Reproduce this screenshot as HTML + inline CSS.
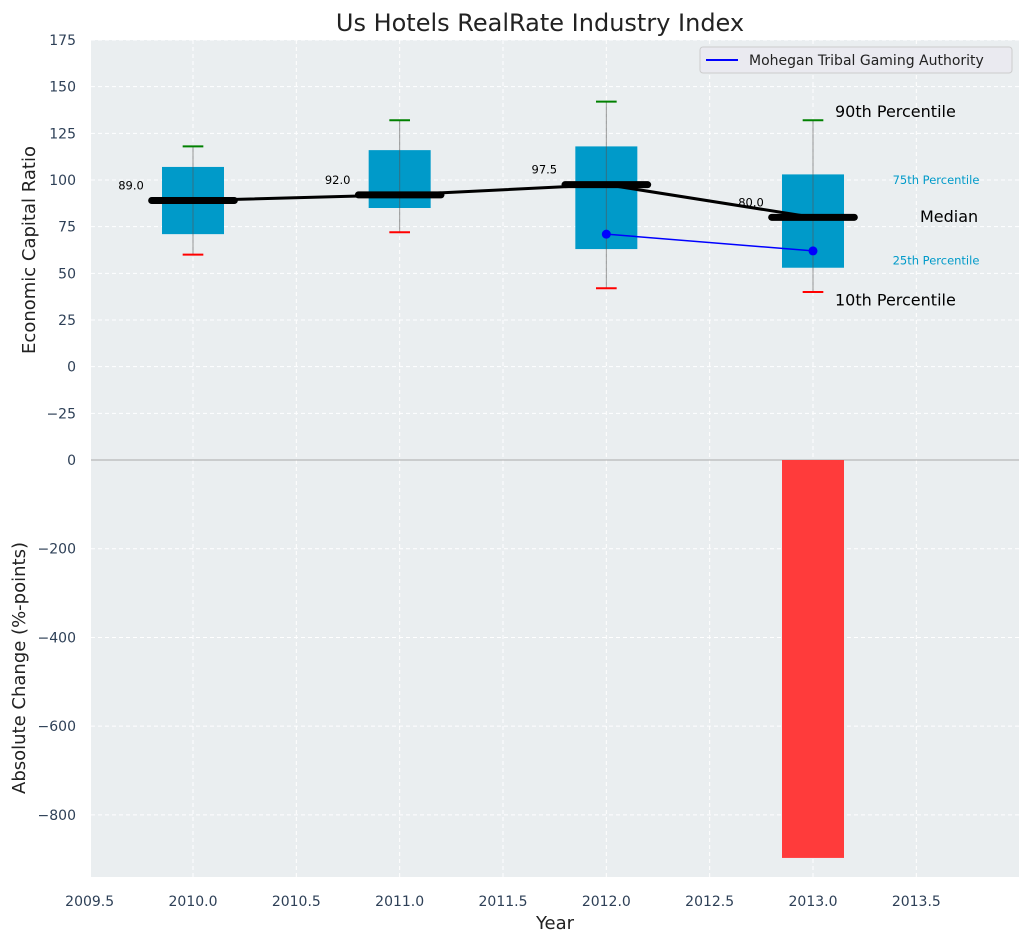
<!DOCTYPE html>
<html><head><meta charset="utf-8"><style>
body{margin:0;background:#fff;font-family:"Liberation Sans","DejaVu Sans",sans-serif}
svg text{font-family:"DejaVu Sans","Liberation Sans",sans-serif}
</style></head><body>
<svg id="c" width="1029" height="942" xmlns="http://www.w3.org/2000/svg"></svg>
<script>
const years=[2010,2011,2012,2013];
const q10=[60,72,42,40];
const q25=[71,85,63,53];
const medians=[89,92,97.5,80];
const q75=[107,116,118,103];
const q90=[118,132,142,132];
const companyYears=[2012,2013];
const companyValues=[71,62];
const changeYears=[2013];
const changeValues=[-897];
const topTicks=[-25,0,25,50,75,100,125,150,175];
const botTicks=[-800,-600,-400,-200,0];
const xTicks=[2009.5,2010,2010.5,2011,2011.5,2012,2012.5,2013,2013.5];

const NS="http://www.w3.org/2000/svg";
const svg=document.getElementById('c');
const L=91,R=1019,T1=40,B1=460,T2=460,B2=877;
const x=v=>193+(v-2010)*(620/3);
const y1=v=>T1+(175-v)/(175+50)*(B1-T1);
const y2=v=>T2+(0-v)/(940)*(B2-T2);
function el(tag,a,name,txt){const e=document.createElementNS(NS,tag);for(const k in a)e.setAttribute(k,a[k]);


if(txt!==undefined)e.textContent=txt;svg.appendChild(e);return e;}
el('rect',{x:L,y:T1,width:R-L,height:B1-T1,fill:'#eaeef0'},'top-plot-area');
el('rect',{x:L,y:T2,width:R-L,height:B2-T2,fill:'#eaeef0'},'bottom-plot-area');
const tc='#2e4057';
topTicks.forEach(t=>{const yy=y1(t);
el('line',{x1:L,x2:R,y1:yy,y2:yy,stroke:'#fff','stroke-dasharray':'4,3','stroke-width':1},'y-grid-top');
el('text',{x:76,y:yy+5,'text-anchor':'end','font-size':14,fill:tc},'y-tick-top',t<0?'\u2212'+(-t):t);});
botTicks.forEach(t=>{const yy=y2(t);
el('line',{x1:L,x2:R,y1:yy,y2:yy,stroke:'#fff','stroke-dasharray':'4,3','stroke-width':1},'y-grid-bottom');
el('text',{x:76,y:yy+5,'text-anchor':'end','font-size':14,fill:tc},'y-tick-bottom',t<0?'\u2212'+(-t):t);});
xTicks.forEach(t=>{const xx=x(t);
el('line',{x1:xx,x2:xx,y1:T1,y2:B2,stroke:'#fff','stroke-dasharray':'4,3','stroke-width':1},'x-grid');
el('text',{x:xx,y:906,'text-anchor':'middle','font-size':14,fill:tc},'x-tick',t.toFixed(1));});
el('line',{x1:L,x2:R,y1:B1,y2:B1,stroke:'#aaa','stroke-width':1},'axes-divider');
changeYears.forEach((yr,i)=>{const v=changeValues[i];
el('rect',{x:x(yr-0.15),y:y2(0),width:x(yr+0.15)-x(yr-0.15),height:y2(v)-y2(0),fill:'#ff3b3b'},'change-bar-'+yr);});
years.forEach((yr,i)=>{const cx=x(yr);
el('rect',{x:x(yr-0.15),y:y1(q75[i]),width:x(yr+0.15)-x(yr-0.15),height:y1(q25[i])-y1(q75[i]),fill:'#009ac9'},'box-'+yr);
el('line',{x1:cx,x2:cx,y1:y1(q90[i]),y2:y1(q10[i]),stroke:'#555','stroke-opacity':0.6,'stroke-width':1},'whisker-'+yr);
el('line',{x1:x(yr-0.05),x2:x(yr+0.05),y1:y1(q90[i]),y2:y1(q90[i]),stroke:'green','stroke-width':2},'cap-90-'+yr);
el('line',{x1:x(yr-0.05),x2:x(yr+0.05),y1:y1(q10[i]),y2:y1(q10[i]),stroke:'red','stroke-width':2},'cap-10-'+yr);
});
el('polyline',{points:years.map((yr,i)=>x(yr)+','+y1(medians[i])).join(' '),fill:'none',stroke:'#000','stroke-width':3},'median-line');
years.forEach((yr,i)=>{
el('line',{x1:x(yr-0.2),x2:x(yr+0.2),y1:y1(medians[i]),y2:y1(medians[i]),stroke:'#000','stroke-width':7,'stroke-linecap':'round'},'median-marker-'+yr);
el('text',{x:x(yr-0.3),y:y1(medians[i]+8)+4,'text-anchor':'middle','font-size':11.5,fill:'#000'},'median-label-'+yr,medians[i].toFixed(1));
});
el('polyline',{points:companyYears.map((yr,i)=>x(yr)+','+y1(companyValues[i])).join(' '),fill:'none',stroke:'blue','stroke-width':1.5},'company-line');
companyYears.forEach((yr,i)=>el('circle',{cx:x(yr),cy:y1(companyValues[i]),r:4.5,fill:'blue'},'company-point-'+yr));
const li=3;
el('text',{x:835,y:y1(q90[li]+5)+6,'font-size':16,fill:'#000'},'label-90th','90th Percentile');
el('text',{x:835,y:y1(q10[li]-4)+6,'font-size':16,fill:'#000'},'label-10th','10th Percentile');
el('text',{x:936,y:y1(q75[li]-3)+4,'text-anchor':'middle','font-size':11.5,fill:'#009ac9'},'label-75th','75th Percentile');
el('text',{x:936,y:y1(q25[li]+4)+4,'text-anchor':'middle','font-size':11.5,fill:'#009ac9'},'label-25th','25th Percentile');
el('text',{x:920,y:y1(medians[li]+0.8)+6,'font-size':16,fill:'#000'},'label-median','Median');
el('rect',{x:700,y:47,width:312,height:26,rx:3,fill:'#eaeaf0',stroke:'#ccc'},'legend-box');
el('line',{x1:706,x2:738,y1:60,y2:60,stroke:'blue','stroke-width':2},'legend-line');
el('text',{x:749,y:65,'font-size':14,fill:'#222'},'legend-label','Mohegan Tribal Gaming Authority');
el('text',{x:540,y:31,'text-anchor':'middle','font-size':24,fill:'#222'},'chart-title','Us Hotels RealRate Industry Index');
el('text',{x:555,y:929,'text-anchor':'middle','font-size':18,fill:'#222'},'x-axis-title','Year');
el('text',{x:0,y:0,'text-anchor':'middle','font-size':18,fill:'#222',transform:'translate(35,250) rotate(-90)'},'y-axis-title-top','Economic Capital Ratio');
el('text',{x:0,y:0,'text-anchor':'middle','font-size':18,fill:'#222',transform:'translate(25,668) rotate(-90)'},'y-axis-title-bottom','Absolute Change (%-points)');
</script>
</body></html>
